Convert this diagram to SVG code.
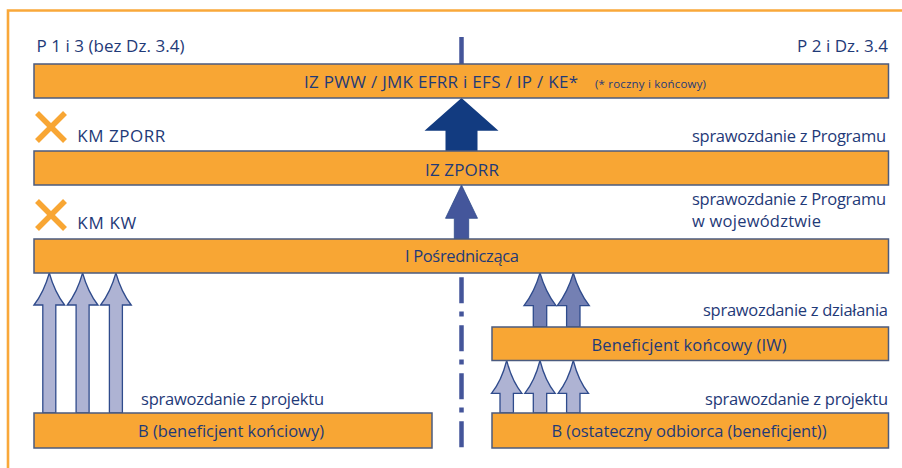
<svg xmlns="http://www.w3.org/2000/svg" width="902" height="468" viewBox="0 0 902 468">
  <style>
    .bar { fill: #f8a634; stroke: #4b5b7f; stroke-width: 1.5; }
    .t { font-family: "Open Sans", "Noto Sans", "DejaVu Sans", sans-serif; font-size: 16.5px; fill: #1f3a78; }
    .k { font-size: 17px; }
    .c { text-anchor: middle; }
    .e { text-anchor: end; }
    .small { font-size: 11.5px; }
    .cross { stroke: #f8a634; stroke-width: 5.5; stroke-linecap: butt; }
    .light { fill: #aeb3d3; stroke: #2f4b8c; stroke-width: 1.3; }
    .mid { fill: #7480b3; stroke: #2f4b8c; stroke-width: 1.3; }
    .sep { stroke: #44559a; stroke-width: 4.5; fill: none; }
  </style>

  <rect width="902" height="468" fill="#ffffff"/>

  <!-- frame (top and left edges) -->
  <path d="M8 468 V10.5 H902" fill="none" stroke="#f9a83a" stroke-width="2.6"/>

  <!-- column headers -->
  <text class="t k" x="36.5" y="52" textLength="148">P 1 i 3 (bez Dz. 3.4)</text>
  <text class="t k e" x="888" y="52" textLength="91">P 2 i Dz. 3.4</text>

  <!-- divider between the two columns -->
  <g id="divider">
    <line class="sep" x1="461.5" y1="37" x2="461.5" y2="64"/>
    <line class="sep" x1="461.5" y1="277.3" x2="461.5" y2="448" stroke-dasharray="26 8.3 5 8.7"/>
  </g>

  <g id="connectors">
    <!-- IZ ZPORR -> IZ PWW -->
    <path fill="#123b80" d="M445.5 151 V130.7 H424.5 L461.5 98 L498.5 130.7 H477.5 V151 Z"/>
    <!-- I Pośrednicząca -> IZ ZPORR -->
    <path fill="#44569b" stroke="#2f4b8c" stroke-width="0.8" d="M454.3 239 V218.3 H445.5 L461.5 185 L477.5 218.3 H468.7 V239 Z"/>

    <!-- left column: project reports -->
    <path class="light" d="M42.8 413 V305 H34 Q44 292 49.3 273 Q54.6 292 64.6 305 H55.8 V413 Z"/>
    <path class="light" d="M76.1 413 V305 H67.3 Q77.3 292 82.6 273 Q87.9 292 97.9 305 H89.1 V413 Z"/>
    <path class="light" d="M109.4 413 V305 H100.6 Q110.6 292 115.9 273 Q121.2 292 131.2 305 H122.4 V413 Z"/>

    <!-- right column: action reports -->
    <path class="mid" d="M533.3 327 V305.7 H524 Q534.5 292 540 273 Q545.5 292 556 305.7 H546.7 V327 Z"/>
    <path class="mid" d="M566.6 327 V305.7 H557.3 Q567.8 292 573.3 273 Q578.8 292 589.3 305.7 H580 V327 Z"/>

    <!-- right column: project reports -->
    <path class="light" d="M500 413 V393.3 H491.5 Q501.5 381 506.7 360.5 Q511.9 381 521.9 393.3 H513.4 V413 Z"/>
    <path class="light" d="M533.3 413 V393.3 H524.8 Q534.8 381 540 360.5 Q545.2 381 555.2 393.3 H546.7 V413 Z"/>
    <path class="light" d="M566.6 413 V393.3 H558.1 Q568.1 381 573.3 360.5 Q578.5 381 588.5 393.3 H580 V413 Z"/>
  </g>

  <g id="iz-pww">
    <rect class="bar" x="34" y="64" width="854.5" height="34"/>
    <text class="t k" x="304" y="88" textLength="274">IZ PWW / JMK EFRR i EFS / IP / KE*</text>
    <text class="t small" x="595" y="87.5" textLength="111">(* roczny i końcowy)</text>
  </g>

  <g id="km-zporr">
    <line class="cross" x1="37" y1="113" x2="65" y2="141"/>
    <line class="cross" x1="65" y1="113" x2="37" y2="141"/>
    <text class="t k" x="77.3" y="142" textLength="88">KM ZPORR</text>
  </g>
  <text class="t" x="692" y="142" textLength="194">sprawozdanie z Programu</text>

  <g id="iz-zporr">
    <rect class="bar" x="34" y="151" width="854.5" height="34"/>
    <text class="t k c" x="462" y="176" textLength="74">IZ ZPORR</text>
  </g>

  <g id="km-kw">
    <line class="cross" x1="37" y1="201" x2="65" y2="229"/>
    <line class="cross" x1="65" y1="201" x2="37" y2="229"/>
    <text class="t k" x="77.3" y="229" textLength="59">KM KW</text>
  </g>
  <text class="t" x="692" y="205" textLength="194">sprawozdanie z Programu</text>
  <text class="t" x="692" y="227" textLength="129">w województwie</text>

  <g id="instytucja-posredniczaca">
    <rect class="bar" x="34" y="239" width="854.5" height="34"/>
    <text class="t c" x="462" y="262" textLength="114">I Pośrednicząca</text>
  </g>

  <text class="t" x="141" y="405" textLength="183">sprawozdanie z projektu</text>
  <text class="t e" x="888" y="316" textLength="185">sprawozdanie z działania</text>
  <text class="t e" x="888" y="405" textLength="183">sprawozdanie z projektu</text>

  <g id="beneficjent-koncowy-iw">
    <rect class="bar" x="492" y="327" width="396.5" height="33.5"/>
    <text class="t c" x="689" y="351" textLength="195">Beneficjent końcowy (IW)</text>
  </g>

  <g id="beneficjent-lewy">
    <rect class="bar" x="34" y="413" width="398" height="35"/>
    <text class="t c" x="231" y="437" textLength="186">B (beneficjent końciowy)</text>
  </g>

  <g id="ostateczny-odbiorca">
    <rect class="bar" x="492" y="413" width="396.5" height="35"/>
    <text class="t c" x="689" y="437" textLength="275">B (ostateczny odbiorca (beneficjent))</text>
  </g>
</svg>
